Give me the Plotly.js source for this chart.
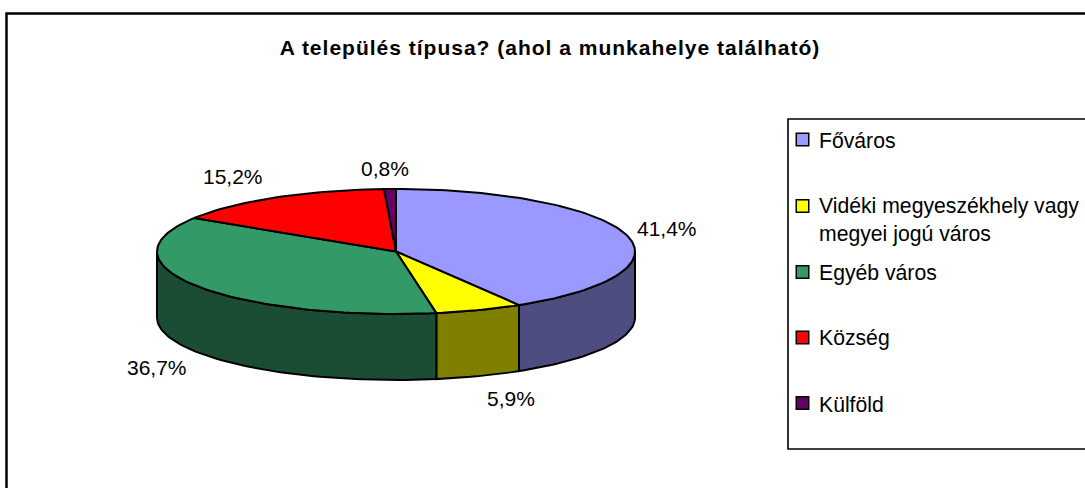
<!DOCTYPE html>
<html>
<head>
<meta charset="utf-8">
<script src="https://cdn.plot.ly/plotly-3.0.1.min.js"></script>
<style>html,body{margin:0;padding:0;background:#fff}#chart{width:1085px;height:488px}.gtitle{letter-spacing:1px}</style>
</head>
<body>
<div id="chart"></div>
<script>
// Data
const categories = ["Főváros", "Vidéki megyeszékhely vagy<br>megyei jogú város", "Egyéb város", "Község", "Külföld"];
const shares = [41.4, 5.9, 36.7, 15.2, 0.8];

// Styles
const topColors = ["#9999FF", "#FFFF00", "#339966", "#FF0000", "#660066"];
const sideColors = ["#4D4D80", "#808000", "#1A4D33", "#800000", "#330033"];
const font = "Liberation Sans, Arial, sans-serif";

// Projection of the tilted pie onto the axes
const cx = 396, cy = 251.5, rx = 239, ry = 62.5, depth = 66;
const px = d => cx + rx * Math.sin(d * Math.PI / 180);
const py = (d, dz) => cy - ry * Math.cos(d * Math.PI / 180) + dz;
function arc(a, b, dz) {
  const n = Math.max(2, Math.ceil(Math.abs(b - a) / 1.5));
  const pts = [];
  for (let i = 0; i <= n; i++) {
    const d = a + (b - a) * i / n;
    pts.push([px(d), py(d, dz)]);
  }
  return pts;
}
const total = shares.reduce((s, v) => s + v, 0);
let cum = 0;
const wedges = shares.map(v => {
  const a = cum / total * 360;
  cum += v;
  return [a, cum / total * 360];
});
const poly = (pts, color) => ({
  type: "scatter", mode: "lines", fill: "toself", fillcolor: color,
  x: pts.map(p => p[0]), y: pts.map(p => p[1]),
  line: {color: "#000", width: 2, shape: "linear"},
  hoverinfo: "skip", showlegend: false
});

const traces = [];
// side walls (front half only)
wedges.forEach(([a, b], i) => {
  const s = Math.max(a, 90), e = Math.min(b, 270);
  if (e <= s) return;
  const pts = arc(s, e, 0).concat(arc(e, s, depth));
  pts.push(pts[0]);
  traces.push(poly(pts, sideColors[i]));
});
// top faces
wedges.forEach(([a, b], i) => {
  const pts = [[cx, cy]].concat(arc(a, b, 0));
  pts.push([cx, cy]);
  traces.push(poly(pts, topColors[i]));
});

// Legend
const legendKeyX = 802.5, legendTextX = 817;
const legendY = [139.5, 206, 272, 337.5, 403];
const legendTextY = [140, 220, 272.5, 338, 404];
traces.push({
  type: "scatter", mode: "markers",
  x: legendY.map(() => legendKeyX), y: legendY,
  marker: {symbol: "square", size: 12.5, color: topColors, line: {color: "#000", width: 1.5}},
  hoverinfo: "skip", showlegend: false
});

const text = (x, y, t, anchor, size) => ({
  x, y, text: t, xref: "x", yref: "y", showarrow: false,
  xanchor: anchor, yanchor: "middle", align: "left",
  font: {family: font, size, color: "#000"}
});
const labelPos = [[667, 228], [511, 398], [157, 367], [233, 176], [385, 168]];
const annotations = shares.map((v, i) =>
  text(labelPos[i][0], labelPos[i][1], v.toFixed(1).replace(".", ",") + "%", "center", 21));
categories.forEach((c, i) => annotations.push(text(legendTextX, legendTextY[i], c, "left", 21.2)));

const layout = {
  width: 1085, height: 488,
  margin: {l: 0, r: 0, t: 0, b: 0},
  paper_bgcolor: "#fff", plot_bgcolor: "#fff",
  showlegend: false,
  title: {
    text: "<b>A település típusa? (ahol a munkahelye található)</b>",
    x: 550 / 1085, xanchor: "center", y: 1 - 48 / 488, yanchor: "middle",
    font: {family: font, size: 21, color: "#000"}
  },
  xaxis: {range: [0, 1085], visible: false, fixedrange: true},
  yaxis: {range: [488, 0], visible: false, fixedrange: true},
  annotations,
  shapes: [
    {type: "rect", xref: "x", yref: "y", x0: 6.5, y0: 13.5, x1: 1100, y1: 520, line: {color: "#000", width: 2.5}, layer: "below"},
    {type: "rect", xref: "x", yref: "y", x0: 788, y0: 119, x1: 1100, y1: 449, line: {color: "#000", width: 1.6}, layer: "below"}
  ]
};
Plotly.newPlot("chart", traces, layout, {displayModeBar: false, staticPlot: true});
</script>
</body>
</html>
